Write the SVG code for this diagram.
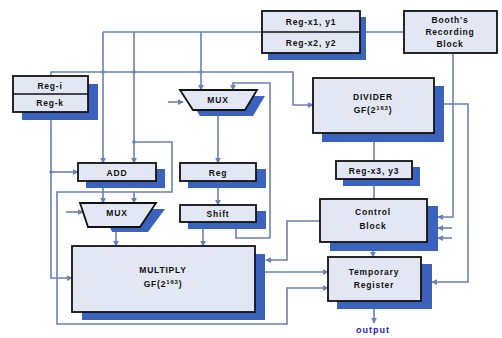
<svg xmlns="http://www.w3.org/2000/svg" width="502" height="338" viewBox="0 0 502 338">
<style>
.bx{fill:#e3e7f3;stroke:#111;stroke-width:1.8}
.sh{fill:#3b63bd}
.t{font-family:"Liberation Sans",Arial,sans-serif;font-size:8.5px;font-weight:bold;fill:#111;text-anchor:middle;letter-spacing:0.8px}
.ln{fill:none;stroke:#6b80b3;stroke-width:1.6}
.dot{fill:#6b80b3}
</style>
<defs>
<marker id="ah" viewBox="0 0 8 8" refX="7" refY="4" markerWidth="6" markerHeight="6" orient="auto" markerUnits="userSpaceOnUse">
<path d="M0,0 L8,4 L0,8 z" fill="#6b80b3"/>
</marker>
</defs>
<rect width="502" height="338" fill="#ffffff"/>

<g id="connectors">
<!-- top bus y=32 -->
<path class="ln" d="M103,32 H404"/>
<path class="ln" d="M103,32 V163" marker-end="url(#ah)"/>
<path class="ln" d="M134,32 V163" marker-end="url(#ah)"/>
<path class="ln" d="M201,32 V90" marker-end="url(#ah)"/>
<!-- bus y=72 to divider -->
<path class="ln" d="M51,76 V72 H293 V105 H313" marker-end="url(#ah)"/>
<!-- mux top inputs -->
<path class="ln" d="M168,102 H183" marker-end="url(#ah)"/>
<path class="ln" d="M236,222 V238 H270 V83 H233 V90" marker-end="url(#ah)"/>
<!-- mux -> reg -> shift -> multiply -->
<path class="ln" d="M218,110 V163" marker-end="url(#ah)"/>
<path class="ln" d="M218,181 V205" marker-end="url(#ah)"/>
<path class="ln" d="M203,222 V246" marker-end="url(#ah)"/>
<!-- add -> lower mux -->
<path class="ln" d="M103,181 V203" marker-end="url(#ah)"/>
<path class="ln" d="M134,142 H172 V192 H134 V203" marker-end="url(#ah)"/>
<path class="ln" d="M134,192 H57 V324 H287 V288 H328" marker-end="url(#ah)"/>
<path class="ln" d="M66,212 H83" marker-end="url(#ah)"/>
<path class="ln" d="M116,227 V246" marker-end="url(#ah)"/>
<!-- reg-k to add and multiply -->
<path class="ln" d="M51,112 V278 H72" marker-end="url(#ah)"/>
<path class="ln" d="M51,172 H78" marker-end="url(#ah)"/>
<!-- control -> multiply -->
<path class="ln" d="M320,221 H287 V260 H266" marker-end="url(#ah)"/>
<!-- multiply -> temp -->
<path class="ln" d="M265,272 H328" marker-end="url(#ah)"/>
<!-- control/regx3/divider -->
<path class="ln" d="M374,199 V179" marker-end="url(#ah)"/>
<path class="ln" d="M374,161 V133" marker-end="url(#ah)"/>
<path class="ln" d="M373,242 V257" marker-end="url(#ah)"/>
<!-- booth -> control -->
<path class="ln" d="M453,53 V217 H438" marker-end="url(#ah)"/>
<!-- divider -> temp -->
<path class="ln" d="M444,104 H468 V282 H432" marker-end="url(#ah)"/>
<path class="ln" d="M452,228 H438" marker-end="url(#ah)"/>
<path class="ln" d="M452,238 H438" marker-end="url(#ah)"/>
<!-- output -->
<path class="ln" d="M374,308 V323" marker-end="url(#ah)"/>
<circle class="dot" cx="103" cy="72" r="1.8"/>
<circle class="dot" cx="134" cy="72" r="1.8"/>
<circle class="dot" cx="201" cy="72" r="1.8"/>
<circle class="dot" cx="134" cy="142" r="1.8"/>
<circle class="dot" cx="51" cy="172" r="1.8"/>
</g>

<g id="reg-xy">
<rect class="sh" x="268" y="17" width="98" height="43"/>
<rect class="bx" x="262" y="11" width="98" height="42"/>
<line x1="262" y1="32" x2="360" y2="32" stroke="#111" stroke-width="1.5"/>
<text class="t" x="311" y="25">Reg-x1, y1</text>
<text class="t" x="311" y="46">Reg-x2, y2</text>
</g>

<g id="booth">
<rect class="bx" x="404" y="11" width="93" height="42"/>
<text class="t" x="450" y="23">Booth's</text>
<text class="t" x="450" y="35">Recording</text>
<text class="t" x="450" y="47">Block</text>
</g>

<g id="divider">
<rect class="sh" x="322" y="86" width="122" height="56"/>
<rect class="bx" x="313" y="78" width="121" height="55"/>
<text class="t" x="373" y="100">DIVIDER</text>
<text class="t" x="373" y="113">GF(2<tspan font-size="6" dy="-3">163</tspan><tspan dy="3">)</tspan></text>
</g>

<g id="reg-x3">
<rect class="sh" x="343" y="167" width="77" height="19"/>
<rect class="bx" x="336" y="161" width="76" height="18"/>
<text class="t" x="374" y="173.5">Reg-x3, y3</text>
</g>

<g id="control">
<rect class="sh" x="330" y="206" width="108" height="45"/>
<rect class="bx" x="320" y="199" width="107" height="43"/>
<text class="t" x="373" y="215">Control</text>
<text class="t" x="373" y="229">Block</text>
</g>

<g id="temp">
<rect class="sh" x="337" y="264" width="95" height="45"/>
<rect class="bx" x="328" y="257" width="93" height="44"/>
<text class="t" x="374" y="275">Temporary</text>
<text class="t" x="374" y="288">Register</text>
</g>

<text x="373" y="333" font-family="Liberation Sans,Arial,sans-serif" font-size="9px" font-weight="bold" fill="#1c1ccc" text-anchor="middle" letter-spacing="1">output</text>

<g id="reg-ik">
<rect class="sh" x="22" y="84" width="76" height="36"/>
<rect class="bx" x="13" y="76" width="75" height="36"/>
<line x1="13" y1="94" x2="88" y2="94" stroke="#111" stroke-width="1.5"/>
<text class="t" x="50" y="88.5">Reg-i</text>
<text class="t" x="50" y="106">Reg-k</text>
</g>

<g id="mux-top">
<polygon class="sh" points="188,96 265,96 253,116 200,116"/>
<polygon class="bx" points="180,90 257,90 245,110 193,110"/>
<text class="t" x="218" y="103">MUX</text>
</g>

<g id="add">
<rect class="sh" x="86" y="169" width="79" height="19"/>
<rect class="bx" x="78" y="163" width="78" height="18"/>
<text class="t" x="117" y="175.5">ADD</text>
</g>

<g id="mux-low">
<polygon class="sh" points="102,209 165,209 148,232 112,232"/>
<polygon class="bx" points="80,203 156,203 140,227 88,227"/>
<text class="t" x="117" y="215.5">MUX</text>
</g>

<g id="reg">
<rect class="sh" x="188" y="169" width="78" height="19"/>
<rect class="bx" x="180" y="163" width="76" height="18"/>
<text class="t" x="218" y="175.5">Reg</text>
</g>

<g id="shift">
<rect class="sh" x="188" y="211" width="78" height="18"/>
<rect class="bx" x="180" y="205" width="76" height="17"/>
<text class="t" x="218" y="217">Shift</text>
</g>

<g id="multiply">
<rect class="sh" x="82" y="254" width="183" height="66"/>
<rect class="bx" x="72" y="246" width="183" height="66"/>
<text class="t" x="163" y="273">MULTIPLY</text>
<text class="t" x="163" y="287">GF(2<tspan font-size="6" dy="-3">163</tspan><tspan dy="3">)</tspan></text>
</g>
</svg>
